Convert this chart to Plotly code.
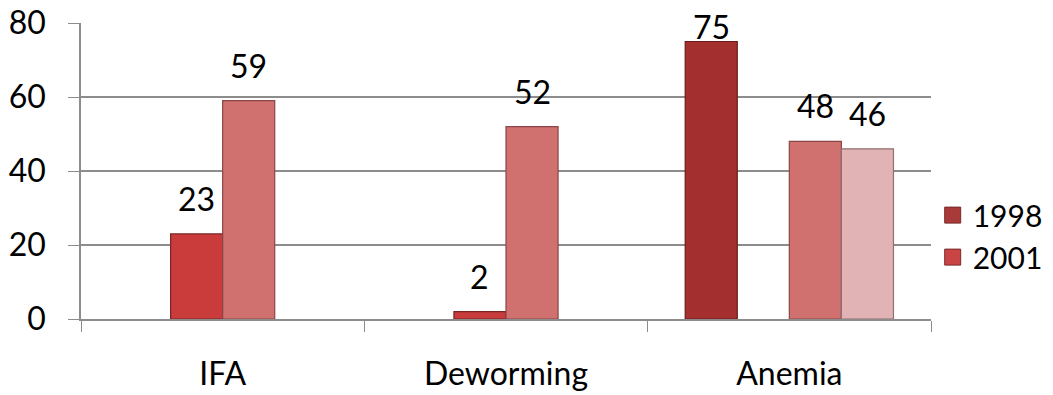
import plotly.graph_objects as go

categories = ["IFA", "Deworming", "Anemia"]
series_1998 = [None, None, 75]
series_2001 = [23, 2, None]
series_c = [59, 52, 48]
series_d = [None, None, 46]
y_ticks = [0, 20, 40, 60, 80]

FONT = "Lato, Carlito, Calibri, sans-serif"
fills = ["#a3302f", "#c93c3b", "#d07170", "#e2b3b5"]
lines = ["#6a1c1c", "#7a2424", "#8a4646", "#8f6f71"]
all_series = [series_1998, series_2001, series_c, series_d]
FS = 32

fig = go.Figure()
for vals, fc, lc in zip(all_series, fills, lines):
    fig.add_trace(go.Bar(
        x=categories, y=vals, marker=dict(color=fc, line=dict(color=lc, width=1.2)),
        showlegend=False, hoverinfo="skip"))

# legend entries
for name, col in [("1998", "#a83a3a"), ("2001", "#c94545")]:
    fig.add_trace(go.Scatter(
        x=[None], y=[None], mode="markers", name=name,
        marker=dict(symbol="square", size=18, color=col,
                    line=dict(color="#7a2a2a", width=1))))

# data labels as annotations
plot_w = 850
bargap = 0.265
bar_px = plot_w / len(categories) * (1 - bargap) / len(all_series)
for slot, vals in enumerate(all_series):
    for cat, v in zip(categories, vals):
        if v is None:
            continue
        fig.add_annotation(
            x=cat, y=v, xref="x", yref="y", text=str(v), showarrow=False,
            xshift=(slot - 1.5) * bar_px, yanchor="bottom",
            yshift=(-6 if v >= 70 else 14),
            font=dict(size=FS, color="#000000", family=FONT))

fig.update_layout(
    width=1053, height=395,
    margin=dict(l=81, r=122, t=23, b=76, autoexpand=False),
    paper_bgcolor="white", plot_bgcolor="white",
    barmode="group", bargap=bargap, bargroupgap=0,
    font=dict(family=FONT, size=FS, color="#000000"),
    legend=dict(x=1.002, y=0.28, xanchor="left", yanchor="middle",
                font=dict(size=30, family=FONT), tracegroupgap=0,
                itemwidth=30),
    xaxis=dict(type="category", tickson="boundaries", ticks="outside",
               ticklen=11, tickcolor="#8c8c8c", showline=True,
               linecolor="#8c8c8c", linewidth=1.5, showgrid=False,
               ticklabelstandoff=26, tickfont=dict(size=FS), automargin=False),
    yaxis=dict(range=[0, 80], tickvals=y_ticks, ticks="outside", ticklen=11,
               tickcolor="#8c8c8c", showline=True, linecolor="#8c8c8c",
               linewidth=1.5, showgrid=True, gridcolor="#8c8c8c",
               gridwidth=1.5, zeroline=False, ticklabelstandoff=16,
               tickfont=dict(size=FS), automargin=False),
)

fig.write_html("out.html")
